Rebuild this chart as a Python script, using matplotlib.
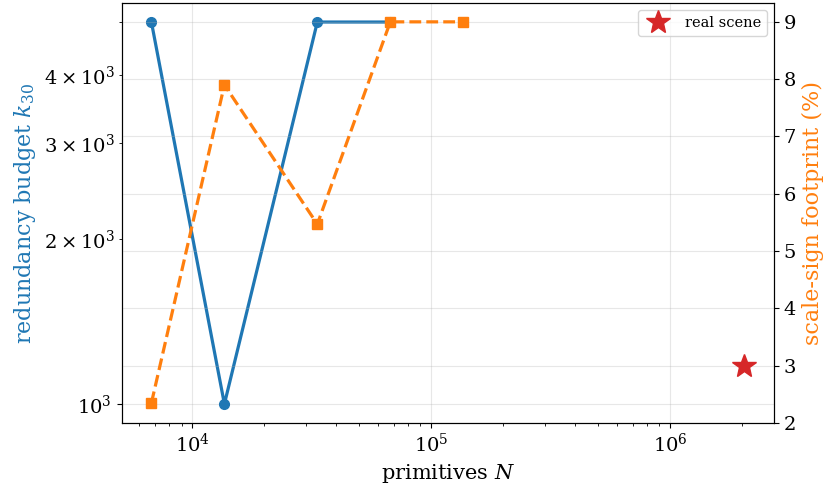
import matplotlib
matplotlib.use('Agg')
import matplotlib.pyplot as plt

plt.rcParams['font.family'] = 'DejaVu Serif'
plt.rcParams['mathtext.fontset'] = 'dejavuserif'

# primitives N for each synthetic scene
prims = [6730, 13600, 33300, 67300]
prims_fp = [6730, 13600, 33300, 67300, 135000]
k30 = [5000, 1000, 5000, 5000]
footprint = [2.35, 7.9, 5.47, 9.0, 9.0]

real_N = [2.04e6]
real_fp = [3.0]

fig, ax = plt.subplots(figsize=(8.34, 4.88), dpi=100)
fig.subplots_adjust(left=0.146, right=0.928, top=0.994, bottom=0.133)

ax.plot(prims, k30, '-o', color='#1f77b4', lw=2.3, ms=7)
ax.set_xscale('log')
ax.set_yscale('log')
ax.set_xlabel('primitives $N$', fontsize=15)
ax.set_ylabel('redundancy budget $k_{30}$', fontsize=16, color='#1f77b4')
ax.tick_params(which='both', labelsize=14, direction='out')
ax.grid(True, alpha=0.3)

ax2 = ax.twinx()
ax2.plot(prims_fp, footprint, '--s', color='#ff7f0e', lw=2.3, ms=7)
ax2.plot(real_N, real_fp, '*', color='#d62728', ms=18, ls='none', label='real scene')
ax2.set_ylim(2.0, 9.33)
ax2.set_ylabel('scale-sign footprint (%)', fontsize=16, color='#ff7f0e')
ax2.tick_params(labelsize=14)
ax2.grid(True, alpha=0.3)
ax2.legend(loc='upper right', fontsize=10.5)

fig.savefig('out.png')
